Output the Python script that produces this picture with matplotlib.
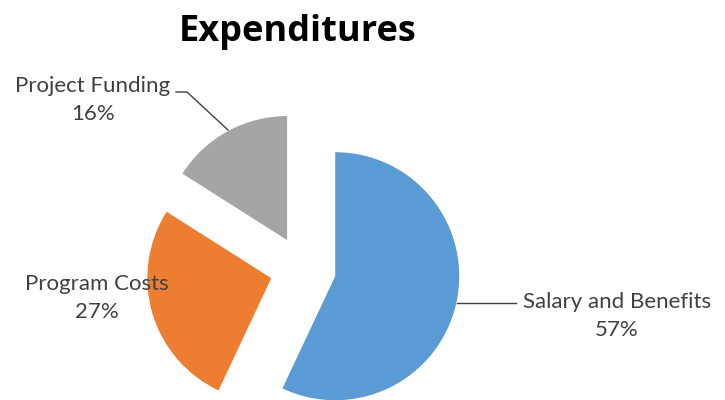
import matplotlib.pyplot as plt

# Data
categories = ["Salary and Benefits", "Program Costs", "Project Funding"]
shares = [57, 27, 16]
colors = ["#5B9BD5", "#ED7D31", "#A5A5A5"]

plt.rcParams['font.family'] = ['Lato', 'DejaVu Sans']

fig = plt.figure(figsize=(7.25, 4), dpi=100)
ax = fig.add_axes([0, 0, 1, 1])

# pie in pixel-like data units (y up), center and radius picked to match layout
wedges, _ = ax.pie(
    shares,
    colors=colors,
    startangle=90,
    counterclock=False,
    center=(303, 131),
    radius=124,
    explode=[33, 33, 33],
    wedgeprops=dict(linewidth=0),
)
ax.set_xlim(0, 725)
ax.set_ylim(0, 400)
ax.set_aspect('equal')
ax.axis('off')

# Title
ax.text(298, 368, "Expenditures", ha="center", va="center",
        fontsize=26, fontweight="bold", color="black",
        family=['Open Sans', 'DejaVu Sans'])

txt = "#404040"
labels = [f"{c}\n{s}%" for c, s in zip(categories, shares)]

# Salary and Benefits label + leader line
ax.text(617, 84, labels[0], ha="center", va="center", fontsize=16,
        color=txt, linespacing=1.5)
ax.plot([457, 516], [97, 97], color="#404040", lw=1)

# Program Costs label
ax.text(97, 102, labels[1], ha="center", va="center", fontsize=16,
        color=txt, linespacing=1.5)

# Project Funding label + leader line
ax.text(93, 300, labels[2], ha="center", va="center", fontsize=16,
        color=txt, linespacing=1.5)
ax.plot([176, 187, 228], [308, 308, 270], color="#404040", lw=1)

plt.savefig("out.png", dpi=100)
